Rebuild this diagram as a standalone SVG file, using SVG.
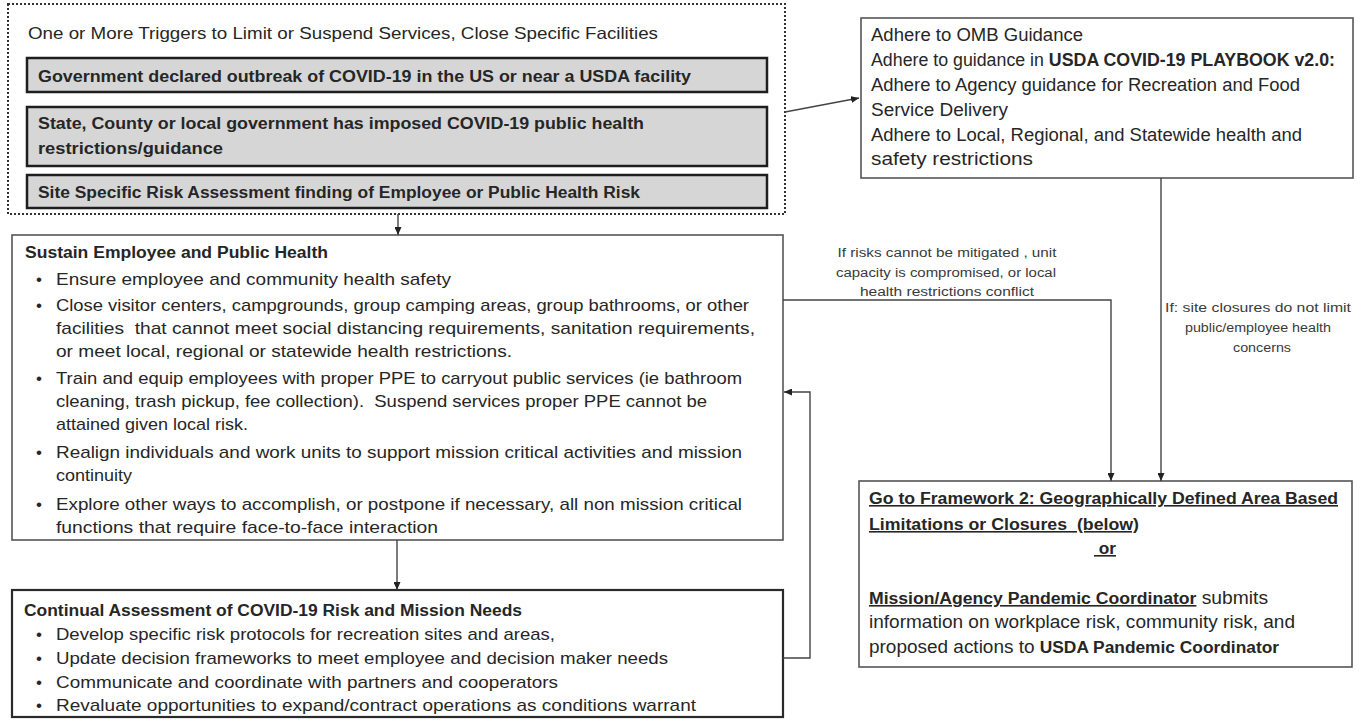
<svg xmlns="http://www.w3.org/2000/svg" width="1364" height="725" viewBox="0 0 1364 725">
<style>
text{font-family:"Liberation Sans",Arial,sans-serif;fill:#262626}
.t{font-size:16.5px}
.b{font-size:16px;font-weight:bold}
.body{font-size:17px}
.omb{font-size:17.5px}
.lbl{font-size:12.5px;fill:#3a3a3a;text-anchor:middle}
.u{text-decoration:underline}
.gray{fill:#d6d6d6;stroke:#1e1e1e;stroke-width:2.5}
.box{fill:#fff;stroke:#555;stroke-width:1.6}
.box2{fill:#fff;stroke:#2a2a2a;stroke-width:2.2}
.con{fill:none;stroke:#444;stroke-width:1.4}
</style>
<defs>
<marker id="ah" markerUnits="userSpaceOnUse" markerWidth="9" markerHeight="7" refX="8" refY="3.5" orient="auto">
<path d="M0,0 L8,3.5 L0,7 z" fill="#222"/>
</marker>
</defs>
<rect width="1364" height="725" fill="#fff"/>

<g id="triggers">
<rect x="8" y="4" width="777" height="210" fill="none" stroke="#333" stroke-width="2" stroke-dasharray="2 2"/>
<text class="t" x="28" y="39" textLength="630" lengthAdjust="spacingAndGlyphs">One or More Triggers to Limit or Suspend Services, Close Specific Facilities</text>
</g>
<g id="trigger1">
<rect class="gray" x="27" y="58" width="740" height="34"/>
<text class="b" x="38" y="82" textLength="653" lengthAdjust="spacingAndGlyphs">Government declared outbreak of COVID-19 in the US or near a USDA facility</text>
</g>
<g id="trigger2">
<rect class="gray" x="27" y="107" width="740" height="59"/>
<text class="b" x="38" y="129" textLength="606" lengthAdjust="spacingAndGlyphs">State, County or local government has imposed COVID-19 public health</text>
<text class="b" x="38" y="154" textLength="185" lengthAdjust="spacingAndGlyphs">restrictions/guidance</text>
</g>
<g id="trigger3">
<rect class="gray" x="27" y="175" width="740" height="33"/>
<text class="b" x="38" y="198" textLength="602" lengthAdjust="spacingAndGlyphs">Site Specific Risk Assessment finding of Employee or Public Health Risk</text>
</g>

<g id="omb">
<rect class="box" x="861" y="18" width="492" height="160"/>
<text class="omb" x="871" y="41" textLength="212" lengthAdjust="spacingAndGlyphs">Adhere to OMB Guidance</text>
<text class="omb" x="871" y="66" textLength="464" lengthAdjust="spacingAndGlyphs">Adhere to guidance in <tspan font-weight="bold">USDA COVID-19 PLAYBOOK v2.0:</tspan></text>
<text class="omb" x="871" y="91" textLength="429" lengthAdjust="spacingAndGlyphs">Adhere to Agency guidance for Recreation and Food</text>
<text class="omb" x="871" y="116" textLength="137" lengthAdjust="spacingAndGlyphs">Service Delivery</text>
<text class="omb" x="871" y="141" textLength="431" lengthAdjust="spacingAndGlyphs">Adhere to Local, Regional, and Statewide health and</text>
<text class="omb" x="871" y="165" textLength="162" lengthAdjust="spacingAndGlyphs">safety restrictions</text>
</g>

<g id="sustain">
<rect class="box" x="12" y="235" width="771" height="305"/>
<text class="b" x="25" y="258" textLength="303" lengthAdjust="spacingAndGlyphs">Sustain Employee and Public Health</text>
<text class="body" x="36" y="285">•</text>
<text class="body" x="36" y="311">•</text>
<text class="body" x="36" y="384">•</text>
<text class="body" x="36" y="458">•</text>
<text class="body" x="36" y="510">•</text>
<text class="body" x="56" y="285" textLength="395" lengthAdjust="spacingAndGlyphs">Ensure employee and community health safety</text>
<text class="body" x="56" y="311" textLength="693" lengthAdjust="spacingAndGlyphs">Close visitor centers, campgrounds, group camping areas, group bathrooms, or other</text>
<text class="body" x="56" y="334" textLength="699" lengthAdjust="spacingAndGlyphs" style="white-space:pre">facilities  that cannot meet social distancing requirements, sanitation requirements,</text>
<text class="body" x="56" y="357" textLength="456" lengthAdjust="spacingAndGlyphs">or meet local, regional or statewide health restrictions.</text>
<text class="body" x="56" y="384" textLength="686" lengthAdjust="spacingAndGlyphs">Train and equip employees with proper PPE to carryout public services (ie bathroom</text>
<text class="body" x="56" y="407" textLength="651" lengthAdjust="spacingAndGlyphs" style="white-space:pre">cleaning, trash pickup, fee collection).  Suspend services proper PPE cannot be</text>
<text class="body" x="56" y="430" textLength="192" lengthAdjust="spacingAndGlyphs">attained given local risk.</text>
<text class="body" x="56" y="481" textLength="76" lengthAdjust="spacingAndGlyphs">continuity</text>
<text class="body" x="56" y="458" textLength="686" lengthAdjust="spacingAndGlyphs">Realign individuals and work units to support mission critical activities and mission</text>
<text class="body" x="56" y="510" textLength="686" lengthAdjust="spacingAndGlyphs">Explore other ways to accomplish, or postpone if necessary, all non mission critical</text>
<text class="body" x="56" y="533" textLength="382" lengthAdjust="spacingAndGlyphs">functions that require face-to-face interaction</text>
</g>

<g id="continual">
<rect class="box2" x="12" y="590" width="771" height="127"/>
<text class="b" x="24" y="616" textLength="498" lengthAdjust="spacingAndGlyphs">Continual Assessment of COVID-19 Risk and Mission Needs</text>
<text class="body" x="36" y="640">•</text>
<text class="body" x="36" y="664">•</text>
<text class="body" x="36" y="688">•</text>
<text class="body" x="36" y="711">•</text>
<text class="body" x="56" y="640" textLength="499" lengthAdjust="spacingAndGlyphs">Develop specific risk protocols for recreation sites and areas,</text>
<text class="body" x="56" y="664" textLength="612" lengthAdjust="spacingAndGlyphs">Update decision frameworks to meet employee and decision maker needs</text>
<text class="body" x="56" y="688" textLength="502" lengthAdjust="spacingAndGlyphs">Communicate and coordinate with partners and cooperators</text>
<text class="body" x="56" y="711" textLength="640" lengthAdjust="spacingAndGlyphs">Revaluate opportunities to expand/contract operations as conditions warrant</text>
</g>

<g id="goto">
<rect class="box" x="859" y="481" width="493" height="186"/>
<text class="b u" x="869" y="504" textLength="469" lengthAdjust="spacingAndGlyphs">Go to Framework 2: Geographically Defined Area Based</text>
<text class="b u" x="869" y="530" textLength="270" lengthAdjust="spacingAndGlyphs" style="white-space:pre">Limitations or Closures  (below)</text>
<text class="b u" x="1094" y="554" textLength="22" lengthAdjust="spacingAndGlyphs" style="white-space:pre"> or</text>
<text class="omb" x="869" y="604" textLength="399" lengthAdjust="spacingAndGlyphs"><tspan font-weight="bold" text-decoration="underline" font-size="16px">Mission/Agency Pandemic Coordinator</tspan> submits</text>
<text class="omb" x="869" y="628" textLength="426" lengthAdjust="spacingAndGlyphs">information on workplace risk, community risk, and</text>
<text class="omb" x="869" y="653" textLength="410" lengthAdjust="spacingAndGlyphs">proposed actions to <tspan font-weight="bold" font-size="16px">USDA Pandemic Coordinator</tspan></text>
</g>

<g id="connectors">
<path class="con" d="M785,112 L859,98" marker-end="url(#ah)"/>
<path class="con" d="M398,214 L398,235" marker-end="url(#ah)"/>
<path class="con" d="M397,540 L397,590" marker-end="url(#ah)"/>
<path class="con" d="M783,300 L1111,300 L1111,481" marker-end="url(#ah)"/>
<path class="con" d="M1161,178 L1161,481" marker-end="url(#ah)"/>
<path class="con" d="M783,658 L810,658 L810,392 L784,392" marker-end="url(#ah)"/>
<text class="lbl" x="947" y="257" textLength="219" lengthAdjust="spacingAndGlyphs">If risks cannot be mitigated , unit</text>
<text class="lbl" x="946" y="277" textLength="220" lengthAdjust="spacingAndGlyphs">capacity is compromised, or local</text>
<text class="lbl" x="947" y="296" textLength="174" lengthAdjust="spacingAndGlyphs">health restrictions conflict</text>
<text class="lbl" x="1258" y="312" textLength="186" lengthAdjust="spacingAndGlyphs">If: site closures do not limit</text>
<text class="lbl" x="1258" y="332" textLength="146" lengthAdjust="spacingAndGlyphs">public/employee health</text>
<text class="lbl" x="1262" y="352" textLength="58" lengthAdjust="spacingAndGlyphs">concerns</text>
</g>
</svg>
